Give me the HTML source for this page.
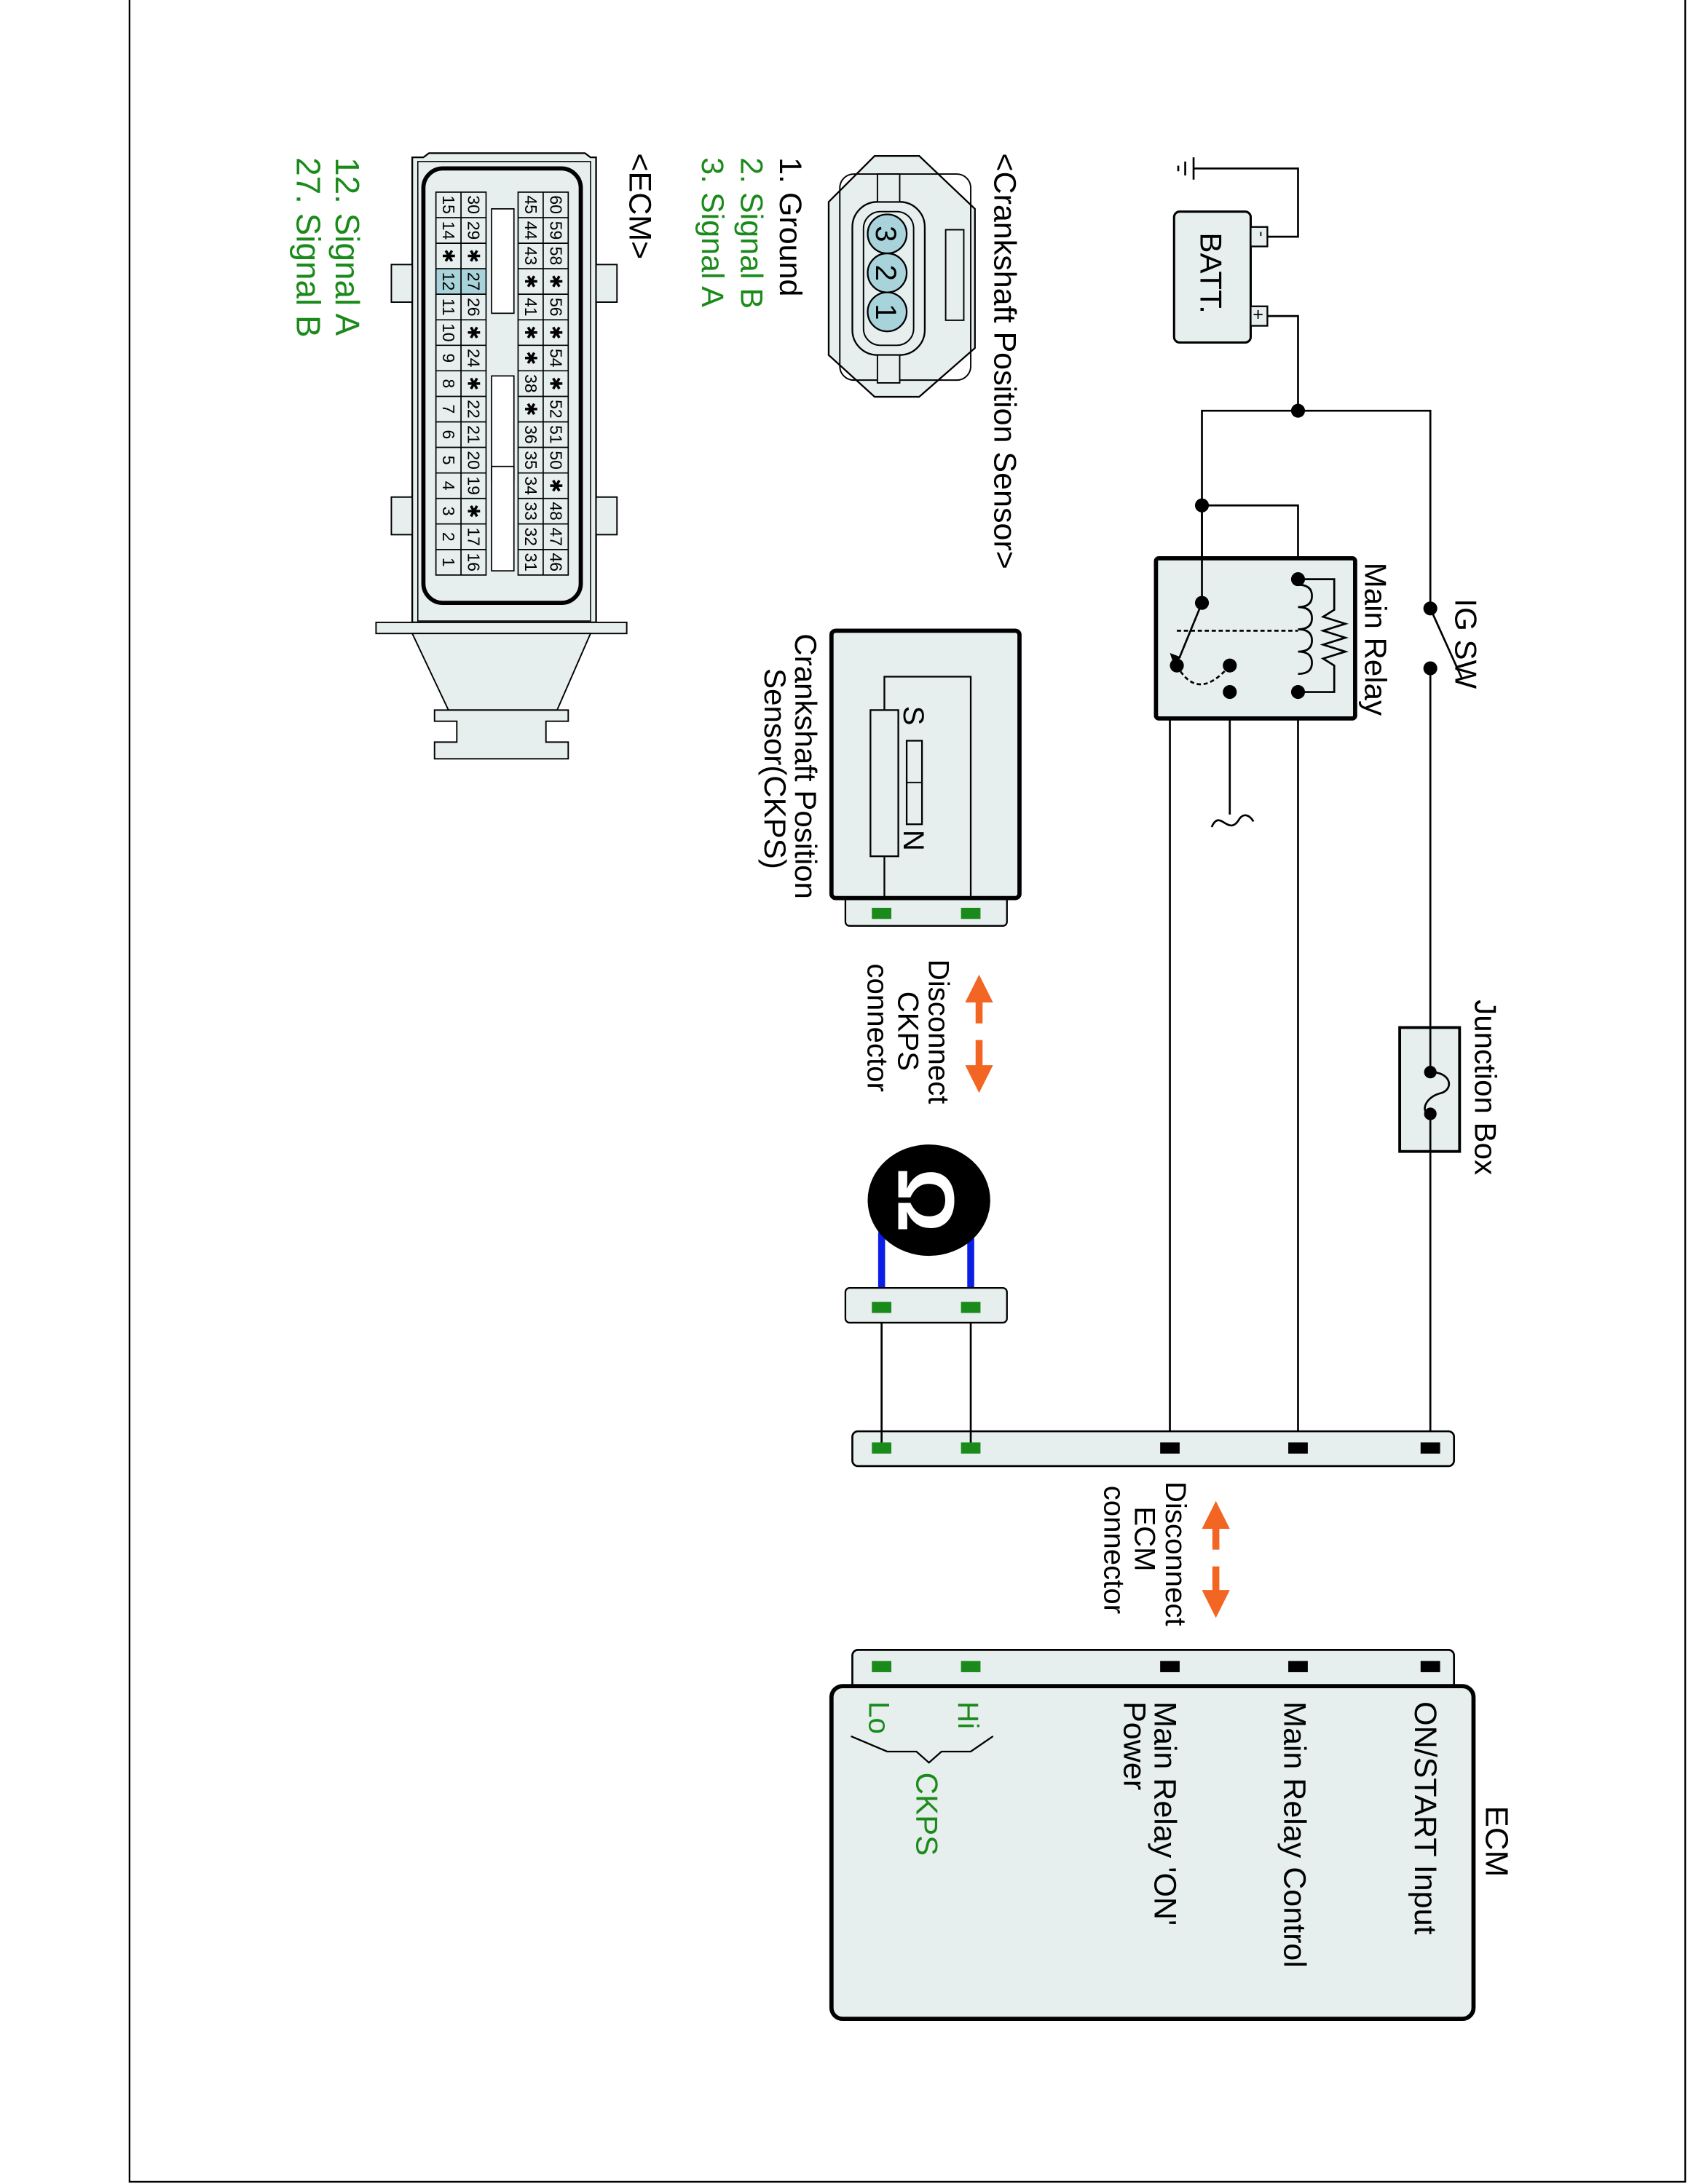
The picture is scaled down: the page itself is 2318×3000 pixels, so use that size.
<!DOCTYPE html>
<html><head><meta charset="utf-8"><style>
html,body{margin:0;padding:0;background:#fff}
svg{display:block}
text{font-family:"Liberation Sans",Arial,sans-serif}
</style></head><body>
<svg width="2318" height="3000" viewBox="0 0 1212 1568.6" preserveAspectRatio="none" xmlns="http://www.w3.org/2000/svg">
<defs>
<marker id="ah" markerWidth="4" markerHeight="4" refX="2" refY="2" orient="auto" markerUnits="strokeWidth"><path d="M0,0 L4,2 L0,4 z" fill="#f26522"/></marker>
</defs>
<rect x="93" y="-2" width="1117" height="1569" fill="none" stroke="#000" stroke-width="1.2"/>

<g stroke="#000" stroke-width="1.4" fill="none">
<polyline points="910,170 932,170 932,121 857,121"/>
<line x1="857" y1="113" x2="857" y2="129"/><line x1="851" y1="116" x2="851" y2="126"/><line x1="846" y1="119" x2="846" y2="123"/>
<polyline points="910,227 932,227 932,295"/>
<polyline points="863,433 863,295 1027,295 1027,437"/>
<polyline points="863,363 932,363 932,416"/>
<line x1="1027" y1="480" x2="1027" y2="770"/>
<line x1="1027" y1="800" x2="1027" y2="1040"/>
<line x1="932" y1="497" x2="932" y2="1040"/>
<polyline points="883,497 840,497 840,1040"/>
<line x1="883" y1="478" x2="883" y2="585"/>
<path d="M870,594 C876,580 882,602 890,588 C893,584 897,585 900,590"/>
<line x1="1027" y1="437" x2="1050" y2="488"/>
</g>
<rect x="843" y="152" width="55" height="94" rx="4" fill="#e6eeee" stroke="#000" stroke-width="1.6"/>
<rect x="898" y="163" width="12" height="14" fill="#e6eeee" stroke="#000" stroke-width="1.2"/>
<rect x="898" y="220" width="12" height="14" fill="#e6eeee" stroke="#000" stroke-width="1.2"/>
<text transform="translate(902,166) rotate(90)" font-size="12">-</text>
<text transform="translate(899,222) rotate(90)" font-size="13">+</text>
<text transform="translate(862,167) rotate(90)" font-size="22">BATT.</text>
<rect x="830" y="401" width="143" height="115" fill="#e6eeee" stroke="#000" stroke-width="3" rx="2"/>
<g stroke="#000" stroke-width="1.4" fill="none">
<line x1="863" y1="363" x2="863" y2="433"/>
<polyline points="932,416 958,416 958,438 950,443 966,448 950,453 966,458 950,463 966,468 950,473 958,478 958,497 932,497"/>
<path d="M932,420 q10,0 10,8 q0,8 -10,8 q10,0 10,8 q0,8 -10,8 q10,0 10,8 q0,8 -10,8 q10,0 10,8 q0,8 -10,8"/>
<line x1="845" y1="453" x2="932" y2="453" stroke-dasharray="3,2"/>
<path d="M845,478 Q860,505 883,478" stroke-dasharray="3,2"/>
<line x1="863" y1="433" x2="847" y2="472"/>
</g>
<path d="M843,478 l-3,-9 l8,3 z" fill="#000"/>
<g fill="#000">
<circle cx="932" cy="295" r="5"/><circle cx="863" cy="363" r="5"/><circle cx="863" cy="433" r="5"/>
<circle cx="932" cy="416" r="5"/><circle cx="932" cy="497" r="5"/><circle cx="845" cy="478" r="5"/>
<circle cx="883" cy="478" r="5"/><circle cx="883" cy="497" r="5"/>
<circle cx="1027" cy="437" r="5"/><circle cx="1027" cy="480" r="5"/>
</g>
<text transform="translate(980,404) rotate(90)" font-size="22">Main Relay</text>
<text transform="translate(1045,430) rotate(90)" font-size="22">IG SW</text>
<rect x="1005" y="738" width="43" height="89" fill="#e6eeee" stroke="#000" stroke-width="2"/>
<line x1="1027" y1="738" x2="1027" y2="770" stroke="#000" stroke-width="1.4"/>
<line x1="1027" y1="800" x2="1027" y2="827" stroke="#000" stroke-width="1.4"/>
<path d="M1027,770 C1042,770 1044,782 1035,785 C1022,788 1020,800 1027,800" fill="none" stroke="#000" stroke-width="1.4"/>
<circle cx="1027" cy="770" r="4.5"/><circle cx="1027" cy="800" r="4.5"/>
<text transform="translate(1059,718) rotate(90)" font-size="22">Junction Box</text>

<rect x="612" y="1028" width="432" height="25" rx="4" fill="#e6eeee" stroke="#000" stroke-width="1.4"/>
<g stroke="#000" stroke-width="1.4"><line x1="633" y1="945" x2="633" y2="1040"/><line x1="697" y1="945" x2="697" y2="1040"/></g>
<g fill="#000"><rect x="833" y="1036" width="14" height="8"/><rect x="925" y="1036" width="14" height="8"/><rect x="1020" y="1036" width="14" height="8"/></g>
<g fill="#1a8a1a"><rect x="626" y="1036" width="14" height="8"/><rect x="690" y="1036" width="14" height="8"/></g>

<rect x="612" y="1185" width="432" height="40" rx="4" fill="#e6eeee" stroke="#000" stroke-width="1.4"/>
<rect x="597" y="1211" width="461" height="239" rx="8" fill="#e6eeee" stroke="#000" stroke-width="3"/>
<g fill="#000"><rect x="833" y="1193" width="14" height="8"/><rect x="925" y="1193" width="14" height="8"/><rect x="1020" y="1193" width="14" height="8"/></g>
<g fill="#1a8a1a"><rect x="626" y="1193" width="14" height="8"/><rect x="690" y="1193" width="14" height="8"/></g>
<text transform="translate(1016,1222) rotate(90)" font-size="22.5">ON/START Input</text>
<text transform="translate(922,1222) rotate(90)" font-size="22.5">Main Relay Control</text>
<text transform="translate(829,1222) rotate(90)" font-size="22.5">Main Relay 'ON'</text>
<text transform="translate(807,1222) rotate(90)" font-size="22.5">Power</text>
<text transform="translate(688,1222) rotate(90)" font-size="21" fill="#1a8a1a">Hi</text>
<text transform="translate(624,1222) rotate(90)" font-size="21" fill="#1a8a1a">Lo</text>
<polyline points="611,1247 637,1258 658,1258 667,1266 676,1258 697,1258 713,1247" fill="none" stroke="#000" stroke-width="1.2"/>
<text transform="translate(658,1273) rotate(90)" font-size="22" fill="#1a8a1a">CKPS</text>
<text transform="translate(1067,1297) rotate(90)" font-size="23">ECM</text>
<g stroke="#f26522" stroke-width="5" fill="none"><line x1="873" y1="1113" x2="873" y2="1088" marker-end="url(#ah)"/><line x1="873" y1="1125" x2="873" y2="1152" marker-end="url(#ah)"/></g>
<text transform="translate(837,1064) rotate(90)" font-size="21">Disconnect</text>
<text transform="translate(815,1082) rotate(90)" font-size="21">ECM</text>
<text transform="translate(793,1067) rotate(90)" font-size="21">connector</text>

<rect x="607" y="640" width="116" height="25" rx="3" fill="#e6eeee" stroke="#000" stroke-width="1.2"/>
<rect x="597" y="453" width="135" height="192" rx="3" fill="#e6eeee" stroke="#000" stroke-width="3"/>
<g fill="#1a8a1a"><rect x="626" y="652" width="14" height="8"/><rect x="690" y="652" width="14" height="8"/></g>
<path d="M635,615 V645 M635,510 V486 H697 V645" fill="none" stroke="#000" stroke-width="1.2"/>
<rect x="625" y="510" width="20" height="105" fill="#e6eeee" stroke="#000" stroke-width="1.2"/>
<rect x="651" y="532" width="11" height="60" fill="#e6eeee" stroke="#000" stroke-width="1.2"/>
<line x1="651" y1="562" x2="662" y2="562" stroke="#000"/>
<text transform="translate(649,507) rotate(90)" font-size="21">S</text>
<text transform="translate(649,596) rotate(90)" font-size="21">N</text>
<text transform="translate(571,455) rotate(90)" font-size="22">Crankshaft Position</text>
<text transform="translate(549,480) rotate(90)" font-size="22">Sensor(CKPS)</text>
<g stroke="#f26522" stroke-width="5" fill="none"><line x1="703" y1="735" x2="703" y2="710" marker-end="url(#ah)"/><line x1="703" y1="747" x2="703" y2="775" marker-end="url(#ah)"/></g>
<text transform="translate(667,689) rotate(90)" font-size="21">Disconnect</text>
<text transform="translate(645,712) rotate(90)" font-size="21">CKPS</text>
<text transform="translate(623,692) rotate(90)" font-size="21">connector</text>
<g stroke="#0a1ee6" stroke-width="5"><line x1="633" y1="885" x2="633" y2="937"/><line x1="697" y1="885" x2="697" y2="937"/></g>
<ellipse cx="667" cy="862" rx="44" ry="40" fill="#000"/>
<text transform="translate(645,862) rotate(90)" font-size="58" font-weight="bold" fill="#fff" text-anchor="middle">Ω</text>
<rect x="607" y="925" width="116" height="25" rx="3" fill="#e6eeee" stroke="#000" stroke-width="1.2"/>
<g fill="#1a8a1a"><rect x="626" y="935" width="14" height="8"/><rect x="690" y="935" width="14" height="8"/></g>

<text transform="translate(714,110) rotate(90)" font-size="22.5">&lt;Crankshaft Position Sensor&gt;</text>
<path d="M628,112 L660,112 L700,150 L700,250 L660,285 L628,285 L595,255 L595,145 Z" fill="#e6eeee" stroke="#000" stroke-width="1.2"/>
<rect x="603" y="125" width="94" height="148" rx="10" fill="none" stroke="#000" stroke-width="1"/>
<rect x="612" y="145" width="52" height="110" rx="18" fill="#e6eeee" stroke="#000" stroke-width="1.2"/>
<rect x="620" y="152" width="36" height="96" rx="12" fill="none" stroke="#000" stroke-width="1"/>
<rect x="630" y="125" width="16" height="20" fill="#e6eeee" stroke="#000"/>
<rect x="630" y="255" width="16" height="20" fill="#e6eeee" stroke="#000"/>
<rect x="679" y="165" width="13" height="65" fill="#e6eeee" stroke="#000"/>
<g fill="#a9d3da" stroke="#000" stroke-width="1.2"><circle cx="637" cy="168" r="14"/><circle cx="637" cy="196" r="14"/><circle cx="637" cy="224" r="14"/></g>
<text transform="translate(629,168) rotate(90)" font-size="21" text-anchor="middle">3</text>
<text transform="translate(629,196) rotate(90)" font-size="21" text-anchor="middle">2</text>
<text transform="translate(629,224) rotate(90)" font-size="21" text-anchor="middle">1</text>
<text transform="translate(560,113) rotate(90)" font-size="22.5">1. Ground</text>
<text transform="translate(532,113) rotate(90)" font-size="22.5" fill="#1a8a1a">2. Signal B</text>
<text transform="translate(504,113) rotate(90)" font-size="22.5" fill="#1a8a1a">3. Signal A</text>

<text transform="translate(452,110) rotate(90)" font-size="22.5">&lt;ECM&gt;</text>
<text transform="translate(241,113) rotate(90)" font-size="24" fill="#1a8a1a">12. Signal A</text>
<text transform="translate(213,113) rotate(90)" font-size="24" fill="#1a8a1a">27. Signal B</text>
<path d="M296,447 L296,113 L304,113 L308,110 L420,110 L424,113 L428,113 L428,447 Z" fill="#e6eeee" stroke="#000" stroke-width="1.2"/>
<rect x="300" y="116" width="124" height="330" fill="none" stroke="#000" stroke-width="0.8"/>
<g fill="#e6eeee" stroke="#000"><rect x="281" y="190" width="15" height="27"/><rect x="428" y="190" width="15" height="27"/><rect x="281" y="357" width="15" height="27"/><rect x="428" y="357" width="15" height="27"/></g>
<rect x="304" y="121" width="113" height="312" rx="14" fill="#e6eeee" stroke="#000" stroke-width="3"/>
<rect x="270" y="447" width="180" height="8" fill="#e6eeee" stroke="#000"/>
<path d="M296,455 L424,455 L400,510 L322,510 Z" fill="#e6eeee" stroke="#000"/>
<path d="M312,510 L408,510 L408,518 L392,518 L392,533 L408,533 L408,545 L312,545 L312,533 L328,533 L328,518 L312,518 Z" fill="#e6eeee" stroke="#000"/>
<g fill="#fff" stroke="#000" stroke-width="0.9"><rect x="353" y="150" width="16" height="75"/><rect x="353" y="270" width="16" height="75"/></g>
<rect x="313" y="193" width="18" height="18.3" fill="#a9d3da"/><rect x="331" y="193" width="18" height="18.3" fill="#a9d3da"/>
<g fill="none" stroke="#000" stroke-width="0.9">
<rect x="313" y="138" width="36" height="275"/><line x1="331" y1="138" x2="331" y2="413"/>
<rect x="372" y="138" width="36" height="275"/><line x1="390" y1="138" x2="390" y2="413"/>
<path d="M313,156.3 H349 M313,174.7 H349 M313,193 H349 M313,211.3 H349 M313,229.7 H349 M313,248 H349 M313,266.3 H349 M313,284.7 H349 M313,303 H349 M313,321.3 H349 M313,339.7 H349 M313,358 H349 M313,376.3 H349 M313,394.7 H349"/>
<path d="M372,156.3 H408 M372,174.7 H408 M372,193 H408 M372,211.3 H408 M372,229.7 H408 M372,248 H408 M372,266.3 H408 M372,284.7 H408 M372,303 H408 M372,321.3 H408 M372,339.7 H408 M372,358 H408 M372,376.3 H408 M372,394.7 H408"/>
</g>
<g fill="#fff" stroke="#000" stroke-width="0.9"><rect x="353" y="335" width="16" height="75"/></g>
<g font-size="12" text-anchor="middle">
<text transform="translate(318,147) rotate(90)">15</text><text transform="translate(318,165.5) rotate(90)">14</text><text transform="translate(318,183.8) rotate(90)">✱</text><text transform="translate(318,202.1) rotate(90)">12</text><text transform="translate(318,220.5) rotate(90)">11</text><text transform="translate(318,238.8) rotate(90)">10</text><text transform="translate(318,257.1) rotate(90)">9</text><text transform="translate(318,275.5) rotate(90)">8</text><text transform="translate(318,293.8) rotate(90)">7</text><text transform="translate(318,312.1) rotate(90)">6</text><text transform="translate(318,330.5) rotate(90)">5</text><text transform="translate(318,348.8) rotate(90)">4</text><text transform="translate(318,367.1) rotate(90)">3</text><text transform="translate(318,385.5) rotate(90)">2</text><text transform="translate(318,403.8) rotate(90)">1</text>
<text transform="translate(336,147) rotate(90)">30</text><text transform="translate(336,165.5) rotate(90)">29</text><text transform="translate(336,183.8) rotate(90)">✱</text><text transform="translate(336,202.1) rotate(90)">27</text><text transform="translate(336,220.5) rotate(90)">26</text><text transform="translate(336,238.8) rotate(90)">✱</text><text transform="translate(336,257.1) rotate(90)">24</text><text transform="translate(336,275.5) rotate(90)">✱</text><text transform="translate(336,293.8) rotate(90)">22</text><text transform="translate(336,312.1) rotate(90)">21</text><text transform="translate(336,330.5) rotate(90)">20</text><text transform="translate(336,348.8) rotate(90)">19</text><text transform="translate(336,367.1) rotate(90)">✱</text><text transform="translate(336,385.5) rotate(90)">17</text><text transform="translate(336,403.8) rotate(90)">16</text>
<text transform="translate(377,147) rotate(90)">45</text><text transform="translate(377,165.5) rotate(90)">44</text><text transform="translate(377,183.8) rotate(90)">43</text><text transform="translate(377,202.1) rotate(90)">✱</text><text transform="translate(377,220.5) rotate(90)">41</text><text transform="translate(377,238.8) rotate(90)">✱</text><text transform="translate(377,257.1) rotate(90)">✱</text><text transform="translate(377,275.5) rotate(90)">38</text><text transform="translate(377,293.8) rotate(90)">✱</text><text transform="translate(377,312.1) rotate(90)">36</text><text transform="translate(377,330.5) rotate(90)">35</text><text transform="translate(377,348.8) rotate(90)">34</text><text transform="translate(377,367.1) rotate(90)">33</text><text transform="translate(377,385.5) rotate(90)">32</text><text transform="translate(377,403.8) rotate(90)">31</text>
<text transform="translate(395,147) rotate(90)">60</text><text transform="translate(395,165.5) rotate(90)">59</text><text transform="translate(395,183.8) rotate(90)">58</text><text transform="translate(395,202.1) rotate(90)">✱</text><text transform="translate(395,220.5) rotate(90)">56</text><text transform="translate(395,238.8) rotate(90)">✱</text><text transform="translate(395,257.1) rotate(90)">54</text><text transform="translate(395,275.5) rotate(90)">✱</text><text transform="translate(395,293.8) rotate(90)">52</text><text transform="translate(395,312.1) rotate(90)">51</text><text transform="translate(395,330.5) rotate(90)">50</text><text transform="translate(395,348.8) rotate(90)">✱</text><text transform="translate(395,367.1) rotate(90)">48</text><text transform="translate(395,385.5) rotate(90)">47</text><text transform="translate(395,403.8) rotate(90)">46</text>
</g>
</svg>
</body></html>
